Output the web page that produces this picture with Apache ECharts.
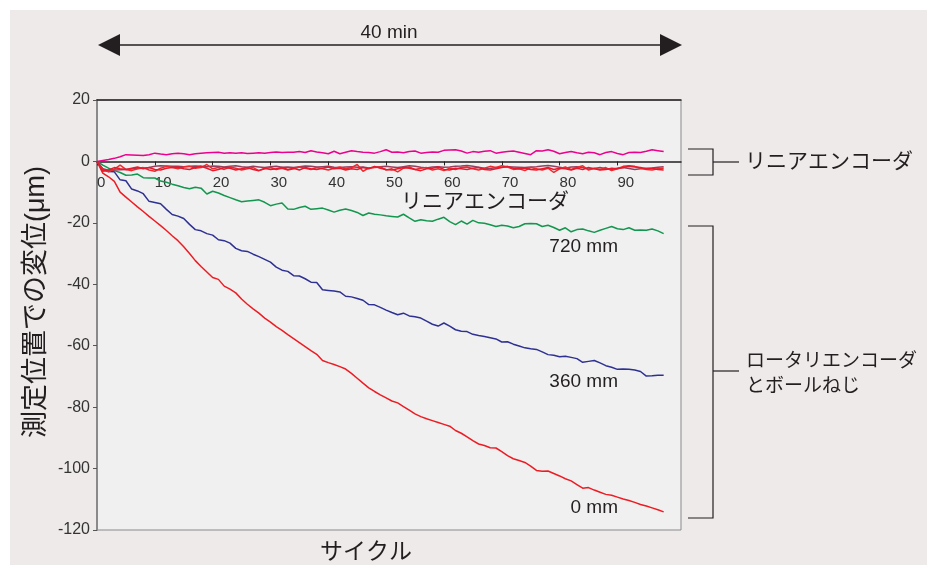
<!DOCTYPE html>
<html>
<head>
<meta charset="utf-8">
<script src="https://cdn.jsdelivr.net/npm/echarts@6/dist/echarts.min.js"></script>
<style>
  html, body { margin: 0; padding: 0; background: #fff; }
  #frame { position: absolute; left: 10px; top: 10px; width: 917px; height: 555px; background: #eeeaea; }
  #chart { position: absolute; left: 0; top: 0; width: 932px; height: 571px; }
</style>
</head>
<body>
<div id="frame"></div>
<div id="chart"></div>
<script>
/* ---------------- data ---------------- */
var xTicks = [0, 10, 20, 30, 40, 50, 60, 70, 80, 90];

// linear encoder, upper (magenta)
var linearTop = [
  0, 0.3, 0.6, 1.0, 1.5, 2.2, 2.1, 2.0, 1.9, 2.2,
  2.7, 2.4, 2.2, 2.5, 2.7, 2.5, 2.2, 2.5, 2.7, 2.8,
  2.9, 3.0, 2.7, 2.8, 2.7, 2.8, 2.6, 2.7, 2.8, 2.7,
  2.9, 3.1, 2.9, 3.0, 3.0, 3.2, 2.9, 3.5, 3.1, 2.8,
  2.5, 3.3, 2.5, 3.0, 3.5, 3.2, 3.0, 2.9, 2.7, 3.2,
  3.8, 3.0, 3.1, 2.8, 3.2, 3.4, 2.7, 2.9, 3.1, 3.0,
  3.6, 3.7, 3.8, 3.4, 2.7, 3.2, 3.0, 3.3, 3.5, 2.7,
  3.0, 3.2, 3.4, 3.0, 2.6, 2.2, 3.5, 3.4, 3.8, 3.3,
  2.5, 2.9, 3.2, 2.8, 2.5, 3.0, 2.8, 2.2, 2.9, 3.2,
  2.6, 2.2, 2.9, 3.0, 2.9, 3.3, 3.8, 3.5, 3.2
];

// linear encoder, lower group
var linearMaroon = [
  0, -2.4, -2.9, -2.8, -2.7, -2.6, -2.5, -2.3, -2.2, -2.0,
  -1.6, -1.4, -1.5, -1.6, -1.6, -1.7, -1.6, -1.5, -1.6, -1.7,
  -1.5, -1.6, -1.8, -1.6, -1.4, -1.7, -1.9, -1.6, -1.8, -2.0,
  -1.7, -1.6, -1.9, -1.8, -2.0, -1.7, -1.5, -1.6, -1.8, -1.7,
  -1.6, -1.9, -2.0, -1.8, -1.7, -1.9, -1.8, -2.1, -1.9, -1.7,
  -1.6, -1.8, -2.0, -1.7, -1.4, -1.6, -1.9, -2.1, -1.8, -1.7,
  -1.9, -1.8, -1.6, -1.5, -1.3, -1.6, -1.9, -2.2, -2.3, -2.0,
  -1.9, -1.7, -1.8, -1.9, -2.0, -1.8, -1.7, -1.5, -1.3, -1.6,
  -1.9, -2.2, -1.8, -1.7, -2.0, -2.5, -2.3, -2.0, -2.4, -2.6,
  -2.2, -2.0, -2.3, -2.6, -2.4, -2.2, -2.1, -1.9, -1.7
];
var linearRedA = [
  0, -2.8, -3.4, -2.5, -1.2, -2.6, -3.0, -2.4, -2.0, -2.8,
  -3.2, -2.2, -1.6, -2.0, -2.4, -1.8, -1.6, -2.2, -2.0, -1.0,
  -2.4, -2.0, -2.6, -1.8, -2.2, -2.8, -2.4, -2.0, -3.0, -2.4,
  -2.0, -2.6, -2.2, -2.8, -2.4, -1.8, -2.2, -2.6, -2.0, -2.4,
  -2.8, -2.2, -1.8, -2.4, -2.0, -1.0, -3.2, -2.2, -2.0, -1.8,
  -2.8, -2.4, -3.4, -2.2, -1.8, -2.6, -2.2, -2.0, -2.8, -2.4,
  -3.0, -2.2, -2.6, -2.0, -1.8, -2.4, -2.8, -2.2, -1.6, -2.0,
  -1.4, -1.8, -2.6, -2.4, -3.0, -2.0, -2.4, -2.8, -2.2, -3.6,
  -2.4, -1.8, -2.6, -2.0, -1.4, -2.8, -2.2, -2.6, -2.0, -3.0,
  -2.4, -1.6, -1.4, -1.6, -2.2, -2.6, -2.8, -2.4, -2.2
];
var linearRedB = [
  0, -3.2, -2.8, -2.0, -2.4, -2.6, -2.2, -1.8, -2.4, -2.0,
  -2.6, -2.8, -2.2, -2.0, -1.8, -2.4, -2.6, -2.0, -1.6, -2.2,
  -3.0, -2.6, -2.0, -2.2, -2.8, -2.4, -2.0, -2.6, -3.0, -2.2,
  -2.6, -2.4, -2.0, -2.6, -2.2, -2.8, -2.0, -2.4, -2.6, -2.2,
  -1.8, -2.4, -2.2, -2.8, -2.4, -2.6, -2.0, -2.4, -1.6, -2.2,
  -2.6, -2.8, -2.4, -2.0, -2.2, -2.6, -3.0, -2.4, -2.2, -1.8,
  -2.6, -2.8, -2.2, -2.4, -2.6, -2.2, -2.0, -2.6, -2.8, -2.4,
  -2.0, -1.6, -2.2, -2.4, -2.2, -2.6, -2.8, -2.4, -2.0, -2.6,
  -2.2, -2.4, -2.8, -2.2, -2.6, -2.0, -2.4, -2.8, -2.6, -2.2,
  -2.4, -2.0, -1.6, -1.8, -2.0, -2.4, -2.2, -2.6, -2.8
];

// rotary encoder + ball screw
var rotary720 = [
  0, -1.2, -2.2, -3.0, -3.6, -4.5, -4.4, -4.1, -5.3, -5.4,
  -5.4, -6.4, -6.8, -7.4, -7.9, -8.5, -8.9, -8.4, -8.7, -10.6,
  -9.7, -10.3, -11.1, -11.8, -12.5, -13.1, -12.9, -12.7, -12.5, -13.3,
  -14.4, -13.9, -13.5, -15.5, -15.6, -15.0, -14.6, -15.6, -15.4, -15.2,
  -15.8, -16.5, -15.9, -15.5, -16.0, -16.6, -17.6, -16.8, -17.2, -17.4,
  -17.7, -17.9, -18.1, -17.2, -18.4, -19.5, -19.0, -19.3, -19.5, -18.8,
  -18.2, -19.6, -20.6, -19.4, -20.4, -19.2, -20.0, -20.1, -20.6, -21.2,
  -20.8, -21.0, -21.6, -21.2, -20.3, -20.2, -20.3, -21.2, -20.8, -21.5,
  -22.4, -21.6, -22.9, -22.2, -22.0, -22.6, -23.1, -22.4, -21.8, -21.2,
  -21.9, -22.2, -21.6, -22.4, -22.3, -22.4, -22.0, -22.6, -23.5
];
var rotary360 = [
  0, -2.5, -3.3, -3.4, -6.0, -6.3, -9.0, -9.6, -10.5, -13.0,
  -13.4, -13.8, -15.6, -17.3, -17.8, -18.6, -20.5, -22.2, -22.6, -23.5,
  -24.0, -25.5, -25.8, -26.6, -28.3, -29.1, -29.3, -30.2, -31.0, -31.9,
  -32.8, -34.4, -35.4, -35.8, -37.2, -37.3, -38.2, -39.3, -39.4, -41.8,
  -42.0, -42.2, -42.5, -43.9, -44.1, -44.6, -45.2, -46.6, -46.7, -47.5,
  -48.4, -49.2, -49.9, -49.4, -50.3, -50.6, -51.0, -52.0, -53.0, -53.6,
  -52.6, -53.6, -54.8, -55.3, -55.4, -56.3, -56.7, -57.0, -57.4, -57.8,
  -58.8, -58.7, -59.5, -60.1, -60.7, -61.0, -61.2, -62.0, -62.9, -63.1,
  -63.6, -63.4, -63.8, -64.2, -65.4, -65.1, -64.8, -65.6, -66.5, -67.0,
  -67.7, -67.6, -67.7, -67.9, -68.4, -69.9, -69.8, -69.6, -69.6
];
var rotary0 = [
  0, -3.8, -5.0, -6.5, -10.0, -11.6, -13.2, -14.8, -16.3, -17.9,
  -19.4, -20.9, -22.5, -24.2, -25.8, -27.8, -30.0, -32.3, -34.2, -36.0,
  -37.8, -38.4, -40.6, -41.6, -42.8, -44.8, -46.5, -48.0, -49.4, -51.0,
  -52.3, -53.8, -55.0, -56.4, -57.7, -59.0, -60.3, -61.6, -62.8, -64.8,
  -65.5, -66.1, -66.8, -67.6, -69.0, -70.6, -72.2, -73.7, -74.9, -76.0,
  -77.0, -78.0, -78.6, -79.8, -81.0, -82.2, -83.1, -83.8, -84.4, -85.0,
  -85.6, -86.2, -87.6, -88.5, -89.7, -90.9, -92.0, -92.5, -93.2, -93.3,
  -94.5, -95.8, -96.8, -97.4, -98.0, -99.2, -100.6, -100.9, -100.8, -101.6,
  -102.4, -103.3, -104.0, -105.2, -106.4, -106.2, -107.0, -107.7, -108.4, -108.7,
  -109.3, -109.9, -110.4, -111.0, -111.7, -112.2, -112.8, -113.4, -114.1
];

/* ---------------- chart ---------------- */
var FONT = "'Liberation Sans', 'Noto Sans CJK JP', sans-serif";
var INK = '#231f20';
var Y_MIN = -120, Y_MAX = 20;
var GRID = { left: 97, right: 251, top: 100, bottom: 41 };
var plotHeight = 571 - GRID.top - GRID.bottom;
// lift the x axis (line, ticks, labels) from the bottom edge up to y = 0
var zeroOffset = -plotHeight * (0 - Y_MIN) / (Y_MAX - Y_MIN);

var myChart = echarts.init(document.getElementById('chart'));

function line(name, values, color) {
  return {
    name: name,
    type: 'line',
    data: values.map(function (v, i) { return [i, v]; }),
    symbol: 'none',
    lineStyle: { color: color, width: 1.5 },
    itemStyle: { color: color },
    silent: true
  };
}

function text(x, y, str, size, align) {
  return {
    type: 'text', x: x, y: y, silent: true,
    style: {
      text: str, fill: INK, font: size + 'px ' + FONT,
      textAlign: align || 'center', textVerticalAlign: 'middle'
    }
  };
}

function bracket(top, bottom, mid) {
  return [
    { type: 'polyline', silent: true,
      shape: { points: [[688, top], [713, top], [713, bottom], [688, bottom]] },
      style: { stroke: INK, lineWidth: 1.2, fill: null } },
    { type: 'line', silent: true,
      shape: { x1: 713, y1: mid, x2: 739, y2: mid },
      style: { stroke: INK, lineWidth: 1.2 } }
  ];
}

var graphics = [
  // 40 min arrow
  { type: 'line', silent: true, shape: { x1: 115, y1: 45, x2: 665, y2: 45 }, style: { stroke: INK, lineWidth: 1.5 } },
  { type: 'polygon', silent: true, shape: { points: [[98, 45], [120, 34], [120, 56]] }, style: { fill: INK } },
  { type: 'polygon', silent: true, shape: { points: [[682, 45], [660, 34], [660, 56]] }, style: { fill: INK } },
  text(389, 33, '40 min', 19),
  text(485, 202, 'リニアエンコーダ', 21),
  text(366, 553, 'サイクル', 23),
  text(618, 247, '720 mm', 19, 'right'),
  text(618, 382, '360 mm', 19, 'right'),
  text(618, 508, '0 mm', 19, 'right'),
  text(745, 162, 'リニアエンコーダ', 21, 'left'),
  text(746, 362, 'ロータリエンコーダ', 19, 'left'),
  text(746, 387, 'とボールねじ', 19, 'left'),
  {
    type: 'text', x: 37, y: 302, rotation: Math.PI / 2, silent: true,
    style: {
      text: '測定位置での変位(μm)', fill: INK, font: '27px ' + FONT,
      textAlign: 'center', textVerticalAlign: 'middle'
    }
  }
].concat(bracket(149, 175, 162), bracket(226, 518, 371));

var option = {
  animation: false,
  textStyle: { fontFamily: FONT },
  grid: {
    left: GRID.left, right: GRID.right, top: GRID.top, bottom: GRID.bottom,
    show: true, backgroundColor: '#eff0ef', borderColor: '#8a8a8a', borderWidth: 1
  },
  xAxis: [
    {
      type: 'value', min: 0, max: 101, position: 'bottom', offset: zeroOffset,
      axisLine: { onZero: false, lineStyle: { color: INK, width: 1.5 } },
      axisTick: { customValues: xTicks, length: 4, lineStyle: { color: INK } },
      axisLabel: { customValues: xTicks, align: 'left', margin: 14, fontSize: 15, color: '#333', fontFamily: FONT },
      splitLine: { show: false }
    },
    {
      type: 'value', min: 0, max: 101, position: 'top',
      axisLine: { onZero: false, lineStyle: { color: INK, width: 1.5 } },
      axisTick: { show: false }, axisLabel: { show: false }, splitLine: { show: false }
    }
  ],
  yAxis: {
    type: 'value', min: Y_MIN, max: Y_MAX, interval: 20,
    axisLine: { show: true, onZero: false, lineStyle: { color: '#8a8a8a', width: 2 } },
    axisTick: { show: true, length: 4, lineStyle: { color: '#555' } },
    axisLabel: { margin: 7, fontSize: 16, color: '#333', fontFamily: FONT },
    splitLine: { show: false }
  },
  graphic: graphics,
  series: [
    line('0 mm', rotary0, '#ed1c24'),
    line('360 mm', rotary360, '#2e3192'),
    line('720 mm', rotary720, '#13964f'),
    line('リニアエンコーダ 1', linearMaroon, '#93405f'),
    line('リニアエンコーダ 2', linearRedA, '#ee2a2f'),
    line('リニアエンコーダ 3', linearRedB, '#e8192c'),
    line('リニアエンコーダ 4', linearTop, '#ec008c')
  ]
};
myChart.setOption(option);
</script>
</body>
</html>
